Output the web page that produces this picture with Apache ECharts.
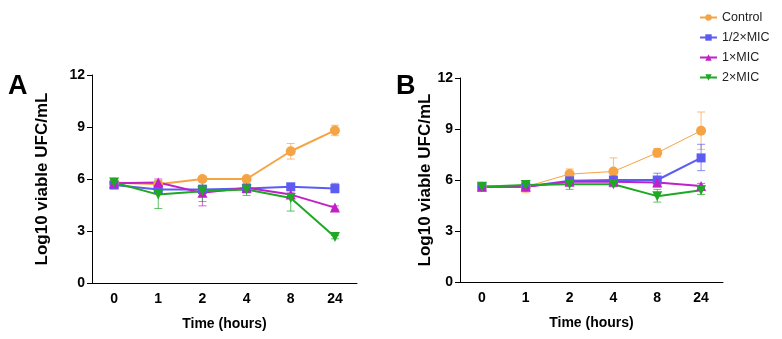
<!DOCTYPE html>
<html><head><meta charset="utf-8">
<script src="https://cdn.jsdelivr.net/npm/echarts@6/dist/echarts.min.js"></script>
<style>html,body{margin:0;padding:0;background:#fff}#c{width:782px;height:339px}</style>
</head><body><div id="c"></div>
<script>
var categories = ['0','1','2','4','8','24'];
var seriesNames = ['Control','1/2\u00d7MIC','1\u00d7MIC','2\u00d7MIC'];
var yTicks = [0,3,6,9,12];

// Panel A means
var aControl = [5.8,5.7,6.0,6.0,7.6,8.8];
var aHalf    = [5.65,5.4,5.4,5.45,5.55,5.45];
var aOne     = [5.75,5.8,5.2,5.5,5.1,4.35];
var aTwo     = [5.8,5.1,5.3,5.4,4.9,2.65];
// Panel A error ranges
var aControlLo = [5.7,5.6,5.85,5.9,7.15,8.5];
var aControlHi = [5.95,5.8,6.15,6.1,8.05,9.1];
var aHalfLo    = [5.5,5.2,5.15,5.2,5.4,5.2];
var aHalfHi    = [5.8,5.6,5.65,5.65,5.7,5.75];
var aOneLo     = [5.6,5.6,4.45,5.3,5.0,4.25];
var aOneHi     = [5.9,6.0,6.0,5.7,5.2,4.45];
var aTwoLo     = [5.65,4.3,4.7,5.05,4.15,2.55];
var aTwoHi     = [5.95,5.9,5.9,5.75,5.5,2.75];

// Panel B means
var bControl = [5.6,5.6,6.35,6.5,7.6,8.9];
var bHalf    = [5.6,5.6,5.95,6.0,6.0,7.3];
var bOne     = [5.6,5.6,5.9,5.9,5.85,5.65];
var bTwo     = [5.6,5.7,5.75,5.75,5.05,5.4];
// Panel B error ranges
var bControlLo = [5.45,5.25,6.1,5.8,7.35,7.8];
var bControlHi = [5.75,5.7,6.65,7.3,7.85,10.0];
var bHalfLo    = [5.5,5.4,5.8,5.85,5.6,6.55];
var bHalfHi    = [5.7,5.8,6.1,6.15,6.4,8.1];
var bOneLo     = [5.5,5.5,5.8,5.8,5.7,5.5];
var bOneHi     = [5.7,5.7,6.0,6.0,6.0,5.8];
var bTwoLo     = [5.5,5.55,5.45,5.6,4.7,5.15];
var bTwoHi     = [5.7,5.85,6.0,5.9,5.45,5.65];

var colors = ['#f5a445','#5c5cf2','#c21fc9','#1fa824'];
var symbols = ['circle','rect','triangle','triangle'];
var rotates = [0,0,0,180];

var chart = echarts.init(document.getElementById('c'), null, {renderer:'canvas'});

var tickFont = {fontFamily:'Liberation Sans Narrow, Liberation Sans, Arial', fontWeight:'bold', fontSize:14, color:'#000'};
var xTitleFont = {fontFamily:'Liberation Sans, Arial', fontWeight:'bold', fontSize:14, color:'#000'};
var yTitleFont = {fontFamily:'Liberation Sans, Arial', fontWeight:'bold', fontSize:17, color:'#000'};

function xAxis(gi){
  return {type:'category', gridIndex:gi, data:categories, boundaryGap:true,
    axisLine:{lineStyle:{color:'#000',width:1}},
    axisTick:{alignWithLabel:true, length:5, lineStyle:{color:'#000'}},
    axisLabel:Object.assign({margin:9}, tickFont),
    name:'Time (hours)', nameLocation:'middle', nameGap:34, nameTextStyle:xTitleFont};
}
function yAxis(gi, gap){
  return {type:'value', gridIndex:gi, min:0, max:12, interval:3,
    axisLine:{show:true, lineStyle:{color:'#000',width:1}},
    axisTick:{show:true, length:5, lineStyle:{color:'#000'}},
    splitLine:{show:false},
    axisLabel:Object.assign({margin:7}, tickFont),
    name:'Log10 viable UFC/mL', nameLocation:'middle', nameGap:gap, nameTextStyle:yTitleFont};
}

function lineSeries(name, idx, data, gi, width){
  return {type:'line', name:name, xAxisIndex:gi, yAxisIndex:gi, data:data,
    symbol:symbols[idx], symbolRotate:rotates[idx], symbolSize: idx===1?9:10,
    showSymbol:true, color:colors[idx],
    lineStyle:{width:width, color:colors[idx]},
    itemStyle:{color:colors[idx]}, z:3, animation:false};
}
function errSeries(idx, lo, hi, gi){
  var d = lo.map(function(v,i){return [i, v, hi[i]];});
  return {type:'custom', name:seriesNames[idx]+' err', xAxisIndex:gi, yAxisIndex:gi, data:d, z:2,
    silent:true, animation:false,
    encode:{x:0, y:[1,2]},
    renderItem:function(params, api){
      var p1 = api.coord([api.value(0), api.value(1)]);
      var p2 = api.coord([api.value(0), api.value(2)]);
      var w = 4;
      var st = {stroke:colors[idx], lineWidth:1, opacity:0.7};
      return {type:'group', children:[
        {type:'line', shape:{x1:p1[0],y1:p1[1],x2:p2[0],y2:p2[1]}, style:st},
        {type:'line', shape:{x1:p1[0]-w,y1:p1[1],x2:p1[0]+w,y2:p1[1]}, style:st},
        {type:'line', shape:{x1:p2[0]-w,y1:p2[1],x2:p2[0]+w,y2:p2[1]}, style:st}
      ]};
    }};
}

var series = [
  lineSeries(seriesNames[0],0,aControl,0,2),
  lineSeries(seriesNames[1],1,aHalf,0,2),
  lineSeries(seriesNames[2],2,aOne,0,2),
  lineSeries(seriesNames[3],3,aTwo,0,2),
  lineSeries(seriesNames[0],0,bControl,1,1),
  lineSeries(seriesNames[1],1,bHalf,1,2),
  lineSeries(seriesNames[2],2,bOne,1,2),
  lineSeries(seriesNames[3],3,bTwo,1,2),
  errSeries(0,aControlLo,aControlHi,0),
  errSeries(1,aHalfLo,aHalfHi,0),
  errSeries(2,aOneLo,aOneHi,0),
  errSeries(3,aTwoLo,aTwoHi,0),
  errSeries(0,bControlLo,bControlHi,1),
  errSeries(1,bHalfLo,bHalfHi,1),
  errSeries(2,bOneLo,bOneHi,1),
  errSeries(3,bTwoLo,bTwoHi,1)
];

chart.setOption({
  animation:false,
  backgroundColor:'#fff',
  title:[
    {text:'A', left:3, top:68, textStyle:{fontFamily:'Liberation Sans, Arial', fontWeight:'bold', fontSize:27, color:'#000'}},
    {text:'B', left:391, top:68, textStyle:{fontFamily:'Liberation Sans, Arial', fontWeight:'bold', fontSize:27, color:'#000'}}
  ],
  legend:{data:seriesNames, orient:'vertical', left:694, top:6, itemGap:7, itemWidth:17, itemHeight:8,
    textStyle:{fontFamily:'Liberation Sans, Arial', fontSize:12.5, color:'#222'}},
  grid:[
    {left:92, top:75, width:265, height:208},
    {left:460, top:78, width:263, height:204}
  ],
  xAxis:[xAxis(0), xAxis(1)],
  yAxis:[yAxis(0, 41), yAxis(1, 20)],
  series:series
});
</script></body></html>
